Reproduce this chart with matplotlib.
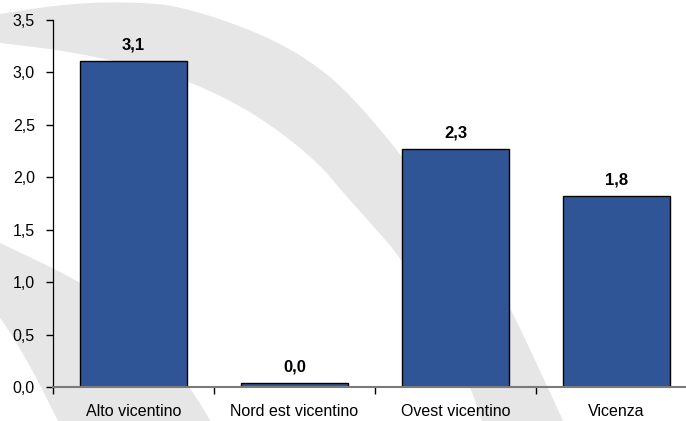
import numpy as np
import matplotlib
matplotlib.use("Agg")
import matplotlib.pyplot as plt
from matplotlib.patches import Polygon
from matplotlib.ticker import FuncFormatter

# data
categories = ["Alto vicentino", "Nord est vicentino", "Ovest vicentino", "Vicenza"]
values = [3.11, 0.04, 2.27, 1.82]
yticks = [0.0, 0.5, 1.0, 1.5, 2.0, 2.5, 3.0, 3.5]

BAR_COLOR = "#2f5596"
WATERMARK = "#e6e6e6"
FSIZE = 11.5

plt.rcParams["font.family"] = ["Liberation Sans", "DejaVu Sans"]


def comma(v, _pos=None):
    return ("%.1f" % v).replace(".", ",")


def chaikin(pts, n=3):
    # corner cutting to round off the outline points
    p = np.asarray(pts, dtype=float)
    for _ in range(n):
        q = 0.75 * p[:-1] + 0.25 * p[1:]
        r = 0.25 * p[:-1] + 0.75 * p[1:]
        p = np.vstack([p[:1], np.column_stack([q, r]).reshape(-1, 2), p[-1:]])
    return p


def main():
    W, H = 686, 421
    fig = plt.figure(figsize=(W / 100, H / 100), dpi=100)

    # background swooshes, drawn in pixel space (y downwards)
    bg = fig.add_axes([0, 0, 1, 1], zorder=0)
    bg.set_xlim(0, W)
    bg.set_ylim(H, 0)
    bg.axis("off")
    outer = [(-5, 15), (0, 14), (50, 6), (100, 2), (150, 3), (180, 7), (230, 22),
             (280, 43), (320, 68), (350, 95), (385, 135), (420, 180), (455, 225),
             (485, 265), (510, 307), (535, 360), (565, 425)]
    inner = [(0, 43), (60, 50), (120, 62), (180, 77), (250, 110), (313, 157),
             (347, 197), (375, 228), (400, 257), (425, 300), (450, 345),
             (470, 385), (483, 425)]
    band = np.vstack([chaikin(outer), chaikin(inner)[::-1], [(-5, 43)]])
    bg.add_patch(Polygon(band, closed=True, facecolor=WATERMARK, edgecolor="none"))
    right_edge = [(0, 243), (40, 262), (80, 282), (130, 315), (170, 360),
                  (195, 395), (213, 425)]
    left_edge = [(0, 318), (12, 335), (35, 375), (60, 425)]
    band2 = np.vstack([[(-5, 243)], chaikin(right_edge), chaikin(left_edge)[::-1],
                       [(-5, 318)]])
    bg.add_patch(Polygon(band2, closed=True, facecolor=WATERMARK, edgecolor="none"))

    # main chart
    ax = fig.add_axes([53 / W, 34 / H, 644 / W, 367 / H], zorder=1)
    ax.patch.set_alpha(0)
    x = np.arange(len(categories))
    bars = ax.bar(x, values, width=0.665, color=BAR_COLOR, edgecolor="black",
                  linewidth=1.0, zorder=2)
    for b, v in zip(bars, values):
        ax.annotate(comma(v), (b.get_x() + b.get_width() / 2, v),
                    xytext=(0, 6), textcoords="offset points",
                    ha="center", va="bottom", fontsize=12, fontweight="bold")

    ax.set_xlim(-0.5, len(categories) - 0.5)
    ax.set_ylim(0, 3.5)
    ax.set_yticks(yticks)
    ax.yaxis.set_major_formatter(FuncFormatter(comma))
    ax.set_xticks(x)
    ax.set_xticklabels(categories)
    ax.set_xticks(np.arange(len(categories) + 1) - 0.5, minor=True)
    ax.tick_params(axis="x", which="major", length=0, pad=12, labelsize=FSIZE)
    ax.tick_params(axis="x", which="minor", length=5, width=1, color="black")
    ax.tick_params(axis="y", length=5, width=1, pad=8, labelsize=FSIZE, color="black")

    for s in ["top", "right"]:
        ax.spines[s].set_visible(False)
    ax.spines["left"].set_color("black")
    ax.spines["left"].set_linewidth(0.9)
    ax.spines["bottom"].set_color("#7a7a7a")
    ax.spines["bottom"].set_linewidth(1.5)

    fig.savefig("out.png", dpi=100)


if __name__ == "__main__":
    main()
